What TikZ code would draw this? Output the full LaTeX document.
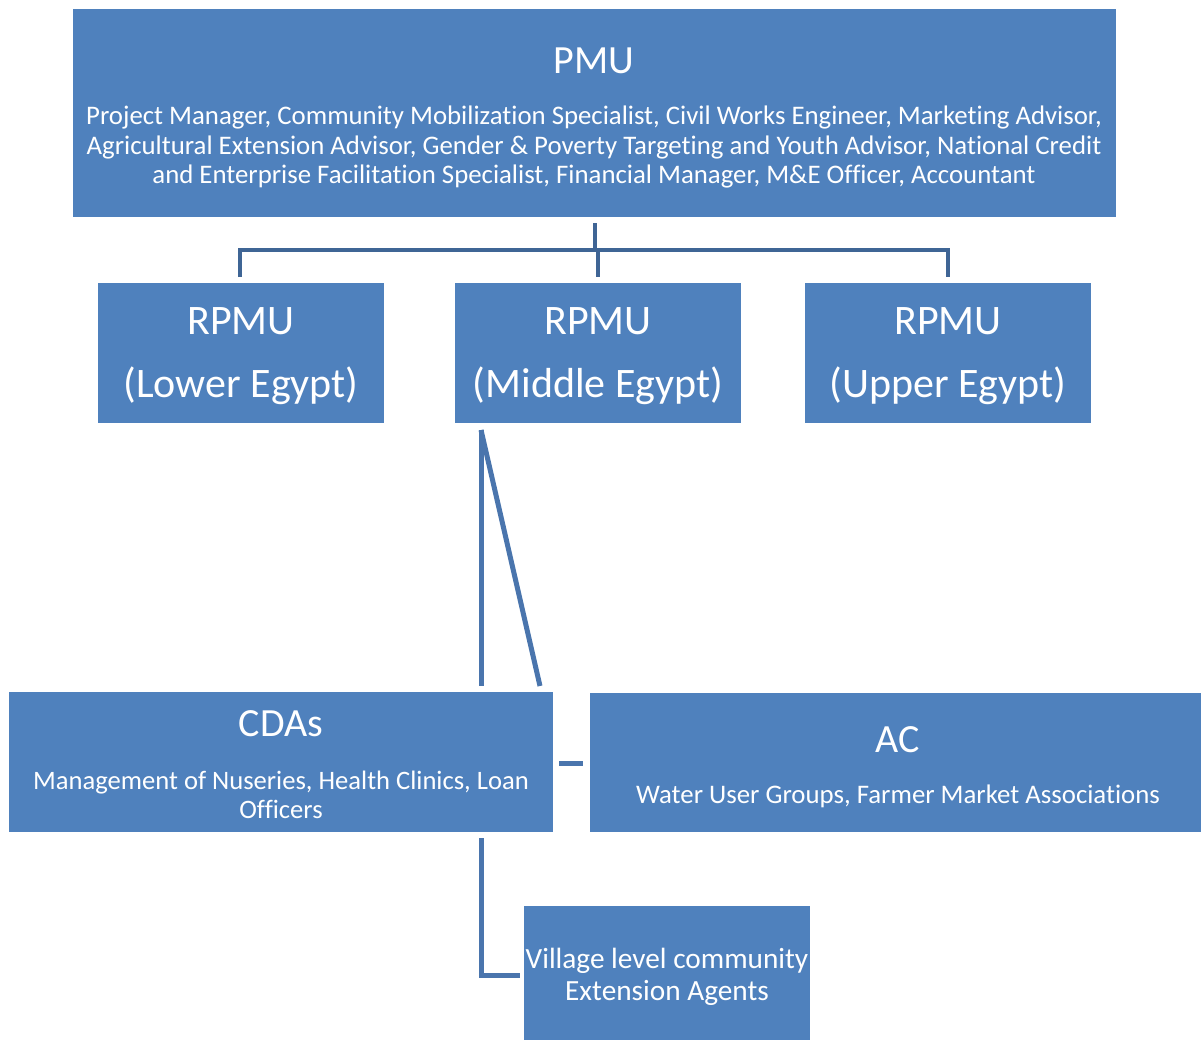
\documentclass[tikz,border=0pt]{standalone}
\usepackage{fontspec}
\setmainfont{Carlito}[Ligatures={NoCommon}]
\usetikzlibrary{calc}
\definecolor{boxblue}{HTML}{4F81BD}
\definecolor{treeline}{HTML}{3F6595}
\definecolor{linkline}{HTML}{4A75AD}
\tikzset{
  box/.style={fill=boxblue, draw=none, inner sep=0pt, outer sep=0pt, anchor=center},
  txt/.style={text=white, inner sep=0pt, align=center, anchor=center},
  tree/.style={draw=treeline, line width=4.5pt},
  link/.style={draw=linkline, line width=5pt},
}
\begin{document}
\begin{tikzpicture}[x=1pt,y=-1pt]
\useasboundingbox (0,0) rectangle (1201,1041);
% boxes
\node[box, minimum width=1043pt, minimum height=208pt] (pmu) at (594.5,113) {};
\node[box, minimum width=286pt, minimum height=140pt] (rl) at (241,353) {};
\node[box, minimum width=286pt, minimum height=140pt] (rm) at (598,353) {};
\node[box, minimum width=286pt, minimum height=140pt] (ru) at (948,353) {};
\node[box, minimum width=544pt, minimum height=140pt] (cda) at (281,762) {};
\node[box, minimum width=611pt, minimum height=139pt] (ac) at (895.5,762.5) {};
\node[box, minimum width=286pt, minimum height=134pt] (vil) at (667,973) {};
% texts
\node[txt, font=\fontsize{40}{46}\selectfont] (pmut) at (594,61) {PMU};
\node[txt, font=\fontsize{26.8}{29.5}\selectfont] (pmub) at (594,147) {Project Manager, Community Mobilization Specialist, Civil Works Engineer, Marketing Advisor,\\Agricultural Extension Advisor, Gender \& Poverty Targeting and Youth Advisor, National Credit\\and Enterprise Facilitation Specialist, Financial Manager, M\&E Officer, Accountant};
\foreach \n/\x/\r in {l/241/Lower Egypt, m/598/Middle Egypt, u/948/Upper Egypt}{
  \node[txt, font=\fontsize{42}{48}\selectfont] (r\n a) at (\x,321) {RPMU};
  \node[txt, font=\fontsize{42}{48}\selectfont] (r\n b) at (\x,386) {(\r)};
}
\node[txt, font=\fontsize{40}{46}\selectfont] (cdat) at (281,724) {CDAs};
\node[txt, font=\fontsize{26.6}{28.5}\selectfont] (cdab) at (281,795) {Management of Nuseries, Health Clinics, Loan\\Officers};
\node[txt, font=\fontsize{40}{46}\selectfont] (act) at (898,740) {AC};
\node[txt, font=\fontsize{26.8}{30}\selectfont] (acb) at (898,796) {Water User Groups, Farmer Market Associations};
\node[txt, font=\fontsize{29.3}{32}\selectfont] (vilt) at (667,977) {Village level community\\Extension Agents};
% tree connector
\coordinate (top) at ($(pmu.south)+(0.5,6)$);
\coordinate (bar) at (595,250);
\draw[tree] (top) -- (bar);
\draw[tree] ($(rl.north)+(-1,-6)$) -- (240,250) -- (948,250) -- ($(ru.north)+(0,-6)$);
\draw[tree] (598,250) -- ($(rm.north)+(0,-6)$);
% middle links
\coordinate (mfork) at ($(rm.south west)+(26,7)$);
\draw[link] (mfork) -- (mfork |- 0,686);
\draw[link] (mfork) -- (540,686);
% dash
\draw[link] ($(cda.east)+(6,1)$) -- ($(ac.west)+(-7,0.5)$);
% L to village
\draw[link] ($(cda.south west)+(472,6)$) -- (481,975) -- ($(vil.west)+(-4,2)$);
\end{tikzpicture}
\end{document}
